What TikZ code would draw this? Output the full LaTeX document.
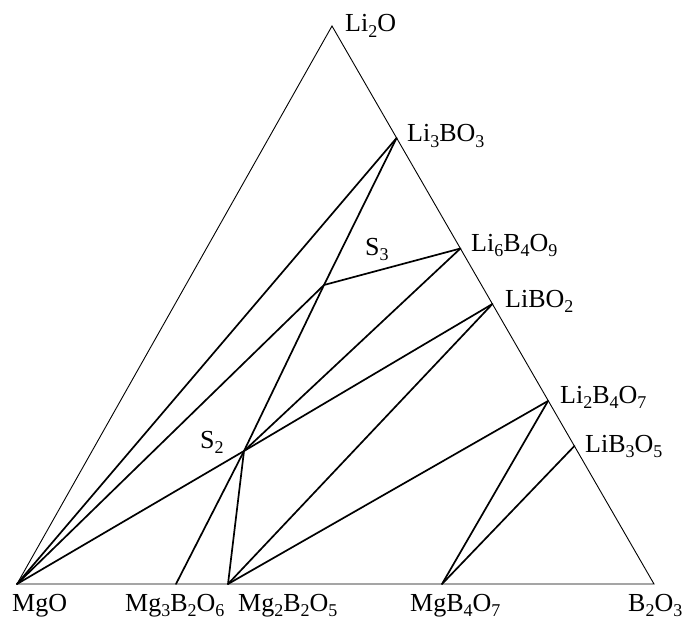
\documentclass[tikz,border=0pt]{standalone}
\usepackage{fontspec}
\setmainfont{Liberation Serif}
\newcommand\sbs[1]{\raisebox{-0.2em}{\fontsize{18}{18}\selectfont #1}}
\begin{document}
\begin{tikzpicture}[x=1pt,y=-1pt,
  edge/.style={line width=0.9pt,line join=miter},
  tie/.style={line width=1.7pt,line cap=round},
  lbl/.style={anchor=base west,inner sep=0pt,font=\fontsize{26}{26}\selectfont}]
\useasboundingbox (0,0) rectangle (684,620);
% vertices
\coordinate (top) at (332,26);
\coordinate (mgo) at (17,584);
\coordinate (b2o3) at (654,584);
% right edge compounds
\coordinate (li3bo3) at (396.6,138);
\coordinate (li6b4o9) at (460.4,248.5);
\coordinate (libo2) at (492.4,304);
\coordinate (li2b4o7) at (548,401);
\coordinate (lib3o5) at (574.4,446);
% bottom edge compounds
\coordinate (mg3) at (176,584);
\coordinate (mg2) at (228,584);
\coordinate (mgb4) at (442,584);
% invariant points
\coordinate (s3) at (324,285);
\coordinate (s2) at (244,451);
% triangle
\draw[edge] (top) -- (mgo) -- (b2o3) -- cycle;
% tie lines
\draw[tie] (mgo) -- (li3bo3);
\draw[tie] (mgo) -- (s3) -- (li6b4o9);
\draw[tie] (mgo) -- (s2) -- (libo2);
\draw[tie] (mg3) -- (s2) -- (s3) -- (li3bo3);
\draw[tie] (s2) -- (li6b4o9);
\draw[tie] (mg2) -- (s2);
\draw[tie] (mg2) -- (libo2);
\draw[tie] (mg2) -- (li2b4o7);
\draw[tie] (mgb4) -- (li2b4o7);
\draw[tie] (mgb4) -- (lib3o5);
% labels
\node[lbl] (lLi2O) at (345,32) {Li\sbs{2}O};
\node[lbl] (lLi3BO3) at (407,142) {Li\sbs{3}BO\sbs{3}};
\node[lbl] (lLi6B4O9) at (471,251) {Li\sbs{6}B\sbs{4}O\sbs{9}};
\node[lbl] (lLiBO2) at (505,307) {LiBO\sbs{2}};
\node[lbl] (lLi2B4O7) at (560,403) {Li\sbs{2}B\sbs{4}O\sbs{7}};
\node[lbl] (lLiB3O5) at (585,452) {LiB\sbs{3}O\sbs{5}};
\node[lbl] (lS3) at (365,255) {S\sbs{3}};
\node[lbl] (lS2) at (200,448) {S\sbs{2}};
\node[lbl] (lMgO) at (12,611) {MgO};
\node[lbl] (lMg3) at (125,611) {Mg\sbs{3}B\sbs{2}O\sbs{6}};
\node[lbl] (lMg2) at (238,611) {Mg\sbs{2}B\sbs{2}O\sbs{5}};
\node[lbl] (lMgB4) at (410,611) {MgB\sbs{4}O\sbs{7}};
\node[lbl] (lB2O3) at (628,611) {B\sbs{2}O\sbs{3}};
\end{tikzpicture}
\end{document}
